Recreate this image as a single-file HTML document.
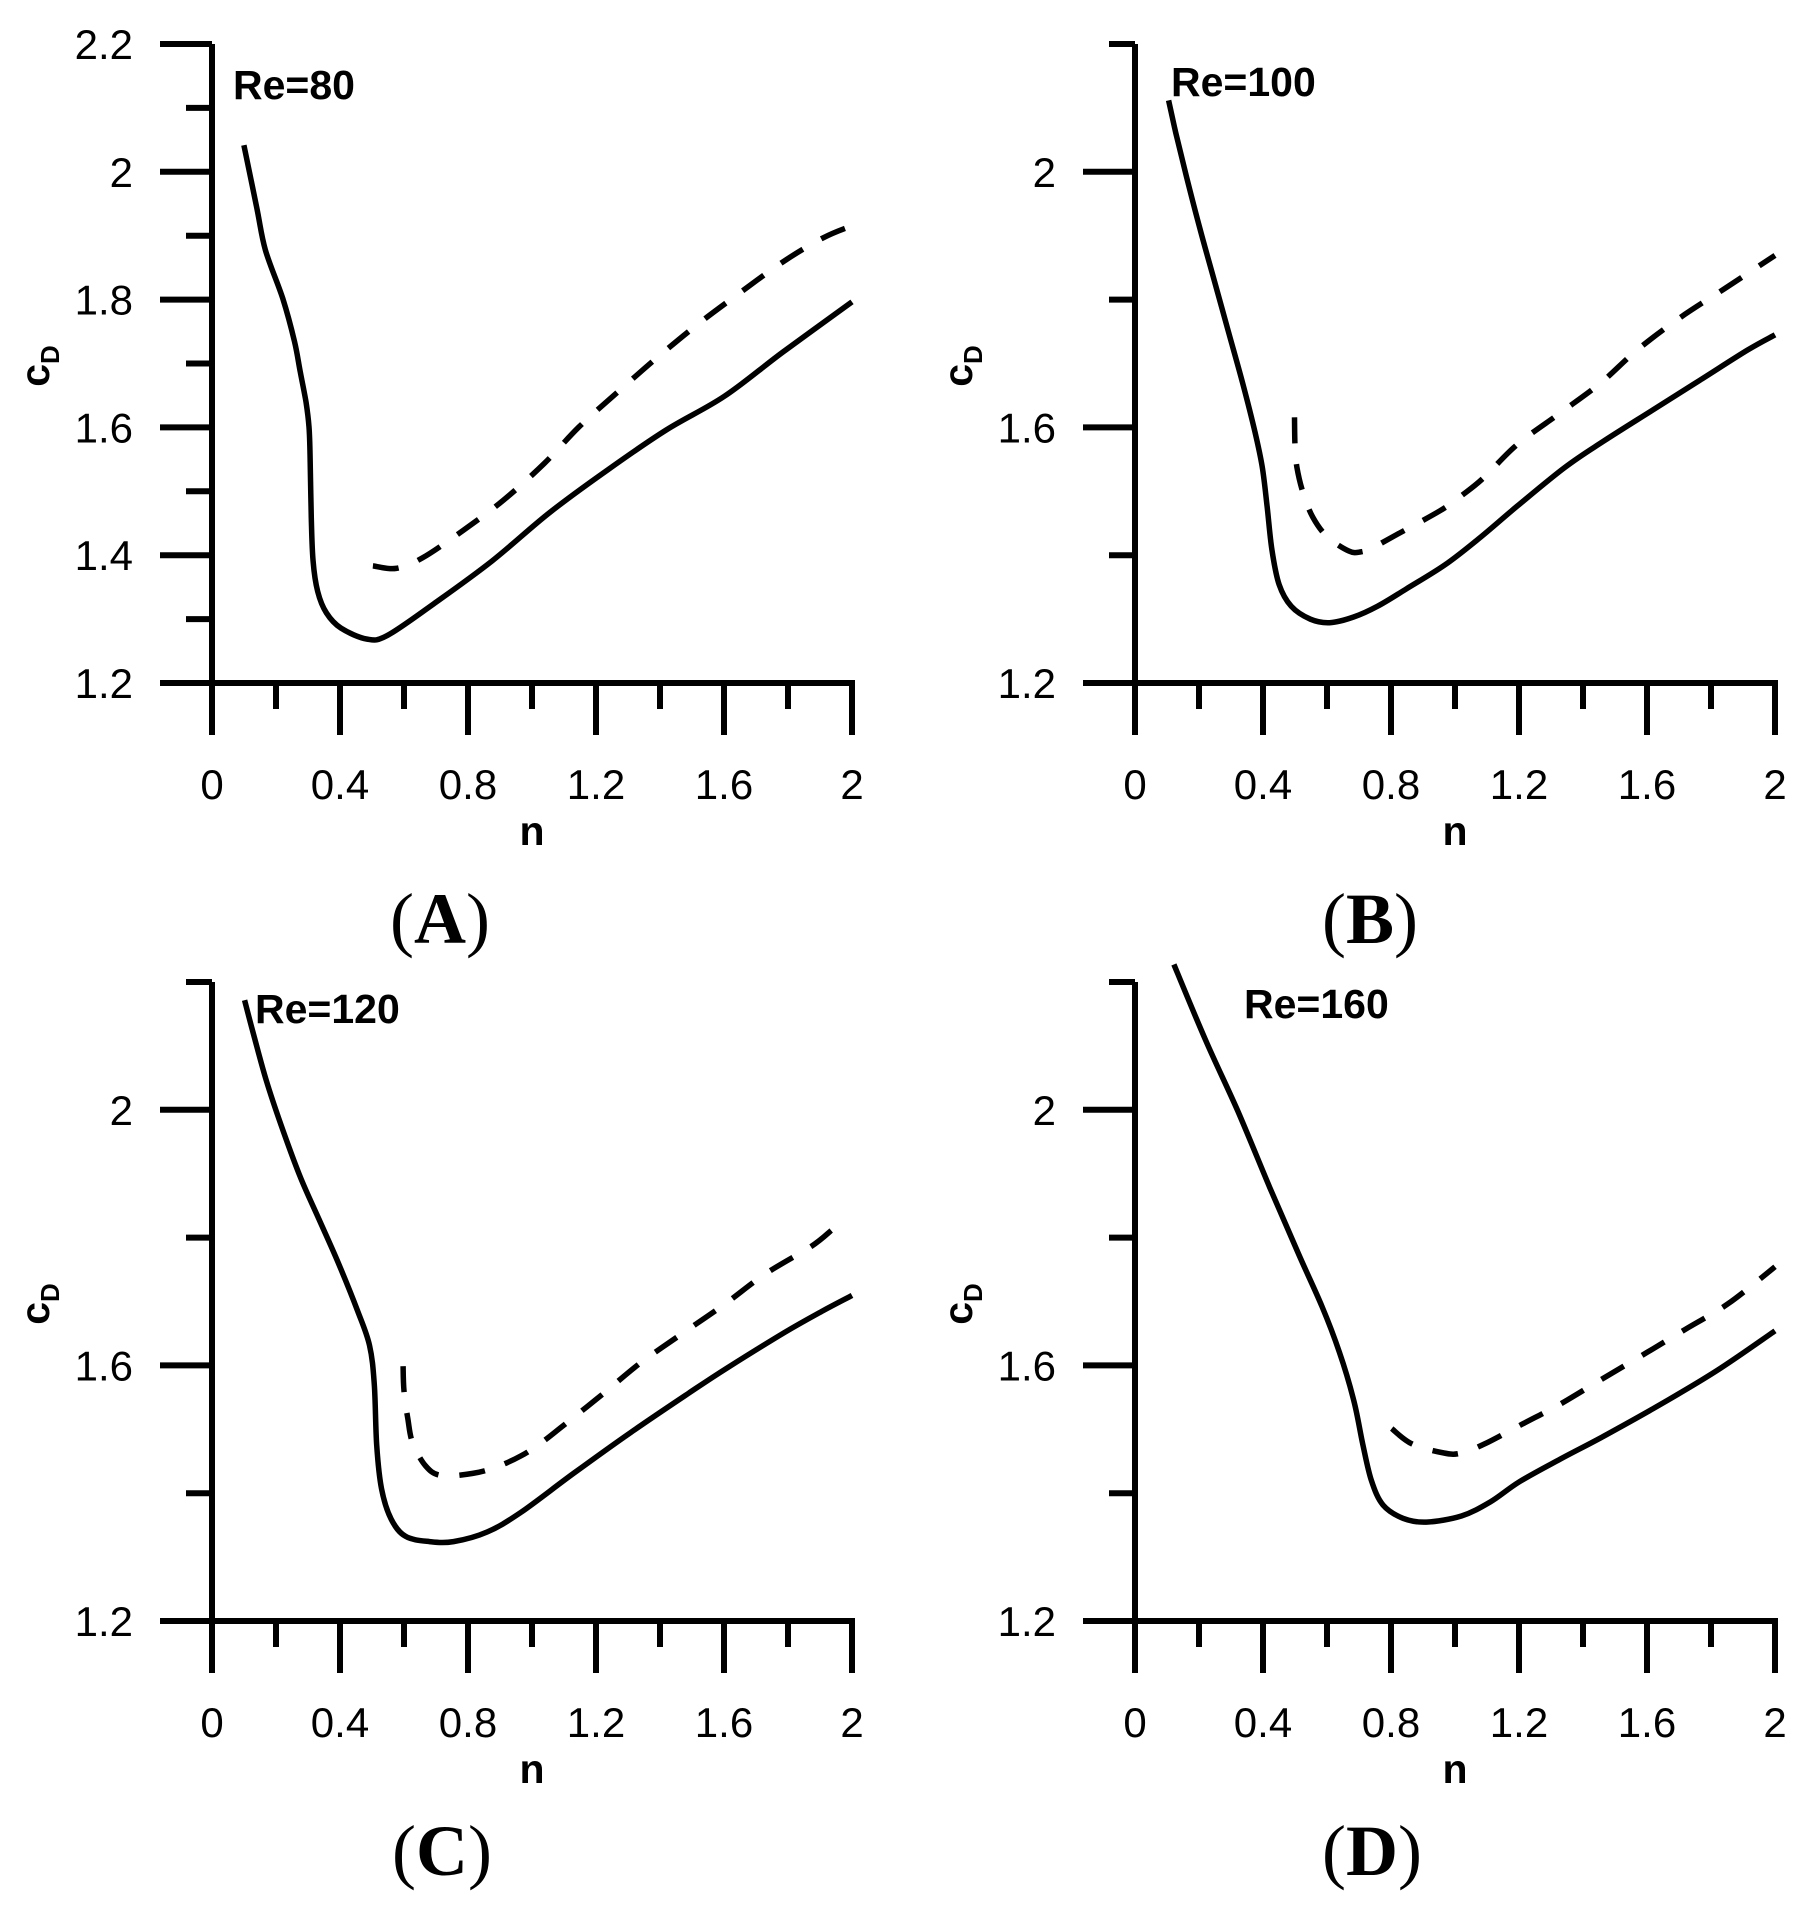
<!DOCTYPE html>
<html><head><meta charset="utf-8"><style>
html,body{margin:0;padding:0;background:#fff;}
svg{display:block;}
text{font-family:"Liberation Sans",Arial,sans-serif;fill:#000;}
.t{font-size:42px;}
.b{font-size:41px;font-weight:bold;}
.p{font-family:"Liberation Serif",serif;font-size:72px;}
</style></head><body>
<svg id="s" width="1811" height="1913" viewBox="0 0 1811 1913" xmlns="http://www.w3.org/2000/svg">
<g id="g"></g>
<text class="b" x="233" y="99">Re=80</text>
<text class="b" x="1171" y="96">Re=100</text>
<text class="b" x="255" y="1023">Re=120</text>
<text class="b" x="1244" y="1018">Re=160</text>
<text class="p" x="440" y="943" text-anchor="middle">(<tspan font-weight="bold">A</tspan>)</text>
<text class="p" x="1370" y="943" text-anchor="middle">(<tspan font-weight="bold">B</tspan>)</text>
<text class="p" x="442" y="1875" text-anchor="middle">(<tspan font-weight="bold">C</tspan>)</text>
<text class="p" x="1372" y="1875" text-anchor="middle">(<tspan font-weight="bold">D</tspan>)</text>
</svg>
<script>
var NS="http://www.w3.org/2000/svg",g=document.getElementById("g");
function el(t,a,txt){var e=document.createElementNS(NS,t);for(var k in a)e.setAttribute(k,a[k]);if(txt!=null)e.textContent=txt;g.appendChild(e);return e;}
function line(x1,y1,x2,y2){el("line",{x1:x1,y1:y1,x2:x2,y2:y2,stroke:"#000","stroke-width":6});}
var panels=[{x0:212,y0:683,all:true},{x0:1135,y0:683},{x0:212,y0:1621},{x0:1135,y0:1621}];
var XS=320,YS=639;
panels.forEach(function(P){
  var x0=P.x0,y0=P.y0,top=y0-YS;
  line(x0,top,x0,y0+52);
  line(x0-52,y0,x0+2*XS+3,y0);
  for(var i=0;i<=10;i++){var x=x0+i*0.2*XS;var maj=i%2==0;if(i>0)line(x,y0,x,y0+(maj?52:26));
    if(maj)el("text",{"class":"t",x:x,y:y0+116,"text-anchor":"middle"},(i==0?"0":i==10?"2":(i*0.2).toFixed(1)));}
  for(var j=1;j<=10;j++){var y=y0-j*0.1*YS;var maj;
    if(P.all){if(j%2)continue;maj=true;}
    else{if(j%2)continue;maj=(j%4==0);}
    line(x0-(maj?52:26),y,x0,y);
  }
  if(P.all)for(var j=1;j<10;j+=2)line(x0-26,y0-j*0.1*YS,x0,y0-j*0.1*YS);
  var labs=P.all?[1.2,1.4,1.6,1.8,2,2.2]:[1.2,1.6,2];
  labs.forEach(function(v){var y=y0-(v-1.2)*YS;el("text",{"class":"t",x:x0-79,y:y+15,"text-anchor":"end"},(v==2?"2":v.toFixed(1)));});
  el("text",{"class":"b",x:x0+XS,y:y0+162,"text-anchor":"middle"},"n");
  var cx=x0-177,cy=y0-317;
  var t=el("text",{"class":"b",x:0,y:0,transform:"translate("+(cx+14)+","+cy+") rotate(-90)","text-anchor":"middle"});
  t.innerHTML='c<tspan font-size="26" dy="10">D</tspan>';
});
function curve(pts,zx0,zx2,zyA,vA,zyB,vB,P,dash){
  var q=pts.map(function(p){var n=(p[0]-zx0)/(zx2-zx0)*2;var v=vA+(p[1]-zyA)/(zyB-zyA)*(vB-vA);
    return [P.x0+n*XS,P.y0-(v-1.2)*YS];});
  var d="M"+q[0][0].toFixed(1)+","+q[0][1].toFixed(1);
  for(var i=0;i<q.length-1;i++){
    var p0=q[Math.max(0,i-1)],p1=q[i],p2=q[i+1],p3=q[Math.min(q.length-1,i+2)];
    var c1=[p1[0]+(p2[0]-p0[0])/6,p1[1]+(p2[1]-p0[1])/6],c2=[p2[0]-(p3[0]-p1[0])/6,p2[1]-(p3[1]-p1[1])/6];
    d+="C"+c1[0].toFixed(1)+","+c1[1].toFixed(1)+" "+c2[0].toFixed(1)+","+c2[1].toFixed(1)+" "+p2[0].toFixed(1)+","+p2[1].toFixed(1);
  }
  var a={d:d,fill:"none",stroke:"#000","stroke-width":5.5,"stroke-linejoin":"round"};
  if(dash)a["stroke-dasharray"]="26,21";
  el("path",a);
}
curve([[423,238],[445,340],[460,410],[490,490],[510,560],[520,610],[530,660],[535,700],[537,750],[539,850],[542,920],[550,970],[565,1005],[590,1030],[635,1048],[670,1042],[750,990],[850,920],[950,840],[1050,770],[1150,705],[1250,650],[1350,578],[1470,495]],368,1470,72,2.2,1120,1.2,panels[0]);
curve([[645,928],[685,932],[730,915],[800,870],[870,820],[940,760],[1000,700],[1070,640],[1130,590],[1200,535],[1270,485],[1350,430],[1420,390],[1470,370]],368,1470,72,2.2,1120,1.2,panels[0],true);
curve([[225,165],[240,240],[262,340],[290,460],[320,580],[350,700],[380,820],[405,930],[420,1010],[430,1100],[440,1200],[455,1280],[480,1330],[520,1360],[560,1368],[610,1355],[660,1330],[720,1290],[800,1235],[870,1175],[950,1100],[1050,1010],[1130,950],[1230,880],[1330,810],[1430,740],[1487,705]],155,1487,35,2.2,1507,1.2,panels[1]);
curve([[487,895],[488,960],[492,1010],[505,1070],[525,1125],[555,1170],[600,1203],[625,1205],[650,1195],[700,1165],[790,1110],[835,1075],[880,1035],[950,958],[1040,885],[1125,815],[1200,740],[1290,665],[1380,600],[1487,522]],155,1487,35,2.2,1507,1.2,panels[1],true);
curve([[195,75],[215,160],[240,260],[270,360],[310,480],[350,580],[390,680],[430,790],[455,870],[465,960],[470,1100],[480,1200],[500,1270],[530,1310],[580,1322],[630,1322],[700,1300],[770,1255],[880,1165],[1000,1070],[1120,980],[1200,922],[1320,840],[1400,790],[1460,755]],127,1460,33,2.2,1505,1.2,panels[2]);
curve([[525,918],[527,975],[535,1040],[545,1095],[572,1148],[605,1170],[670,1165],[720,1150],[770,1125],[812,1095],[855,1058],[940,983],[1020,910],[1110,840],[1195,775],[1280,705],[1375,642],[1417,605]],127,1460,33,2.2,1505,1.2,panels[2],true);
curve([[465,15],[520,140],[575,255],[630,380],[680,490],[720,575],[750,650],[775,730],[790,800],[805,860],[825,900],[860,922],[900,928],[960,918],[1010,895],[1060,862],[1130,825],[1200,790],[1300,737],[1400,680],[1500,615]],398,1500,253,2.0,1090,1.2,panels[3]);
curve([[840,775],[875,800],[930,815],[960,815],[1000,800],[1060,770],[1130,735],[1200,695],[1280,650],[1350,610],[1420,570],[1500,510]],398,1500,253,2.0,1090,1.2,panels[3],true);
</script>
</body></html>
